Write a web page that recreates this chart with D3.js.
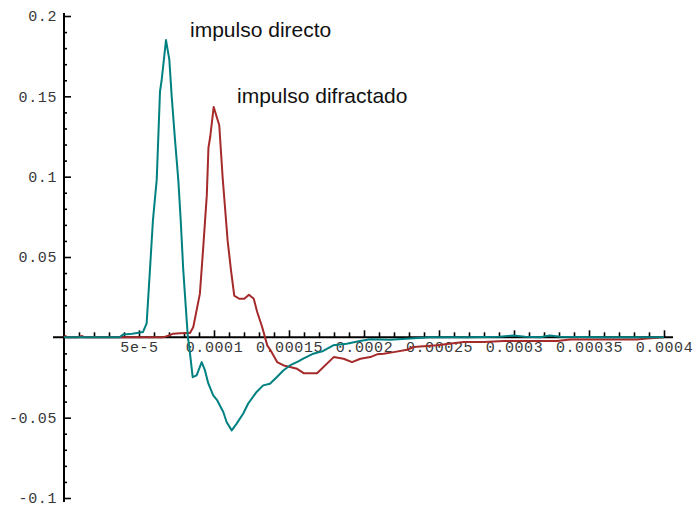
<!DOCTYPE html>
<html>
<head>
<meta charset="utf-8">
<script src="https://cdn.jsdelivr.net/npm/d3@7"></script>
<style>
  html, body { margin: 0; padding: 0; background: #fff; }
  svg { display: block; }
  .tick text { font-family: "Liberation Mono", "DejaVu Sans Mono", monospace; font-size: 15px; letter-spacing: 0.6px; fill: #383838; }
  .note { font-family: "Liberation Sans", Arial, sans-serif; font-size: 21px; fill: #111; }
</style>
</head>
<body>
<svg id="chart" width="694" height="507"></svg>
<script>
// Sample times (microseconds) and amplitudes of the direct pulse
const directTime = [0, 20, 37, 39.3, 44, 48.6, 52.6, 55.1, 57.3, 59.3, 61.8, 62.8, 64, 65.1, 68, 70.2, 71.8, 74, 76.2, 77.8, 79.5, 81.8, 82.6, 83.5, 85.8, 88.4, 91.8, 94, 96.2, 99.5, 102.2, 106.2, 108.4, 111.8, 115.1, 119.5, 122.8, 128.4, 132.8, 137.3, 141.8, 146.2, 150.6, 156.2, 159.5, 166.2, 172.8, 179.5, 188.4, 197.3, 204, 217.3, 230.6, 244, 270.6, 290.6, 299.3, 307.3, 317.3, 324, 330.6, 357.3, 400];
const directValue = [0, 0, 0, 0.0017, 0.002, 0.0027, 0.0033, 0.0087, 0.042, 0.073, 0.098, 0.123, 0.153, 0.160, 0.185, 0.173, 0.150, 0.123, 0.098, 0.073, 0.042, 0.0106, 0, -0.006, -0.0248, -0.0237, -0.0154, -0.0206, -0.0287, -0.0361, -0.0393, -0.0465, -0.0527, -0.0579, -0.0537, -0.0474, -0.0412, -0.034, -0.0299, -0.0289, -0.0248, -0.0206, -0.0175, -0.015, -0.0133, -0.0102, -0.0085, -0.005, -0.004, -0.0023, -0.0012, -0.0015, -0.0008, 0, 0, 0.0003, 0.0012, 0.0003, 0, 0.0012, 0.0003, 0, 0];

// Sample times (microseconds) and amplitudes of the diffracted pulse
const diffractedTime = [0, 1, 2.6, 9.3, 11.8, 14, 66, 69.5, 72.8, 77.3, 81.8, 84, 86.2, 90.6, 93, 95.2, 96.3, 97.5, 99.8, 103.5, 105.8, 109.1, 111.3, 113.5, 116.8, 120.2, 123.3, 126.5, 128.8, 132.1, 135.5, 137.7, 142.1, 146.5, 155.4, 159.8, 168.7, 179.8, 186.4, 192, 197.6, 204.2, 208.7, 213.1, 219.8, 228.7, 233.1, 248.7, 266.4, 279.8, 293.1, 328.7, 337.6, 382, 388.7, 400];
const diffractedValue = [0, 0.0008, 0, 0, 0.0008, 0, 0, 0.001, 0.0023, 0.0025, 0.0027, 0.0027, 0.0064, 0.0272, 0.0583, 0.0885, 0.118, 0.125, 0.1434, 0.132, 0.099, 0.060, 0.042, 0.026, 0.024, 0.024, 0.0265, 0.024, 0.0158, 0.0064, -0.005, -0.0081, -0.0154, -0.0175, -0.0196, -0.0223, -0.0223, -0.0123, -0.0133, -0.0154, -0.0133, -0.0123, -0.0106, -0.0102, -0.0092, -0.0077, -0.006, -0.005, -0.0029, -0.0029, -0.0023, -0.0023, -0.0014, -0.0014, -0.0008, 0];

// Axis ticks and their labels
const xMajorTicks = [5e-5, 1e-4, 1.5e-4, 2e-4, 2.5e-4, 3e-4, 3.5e-4, 4e-4];
const xTickLabels = ["5e-5", "0.0001", "0.00015", "0.0002", "0.00025", "0.0003", "0.00035", "0.0004"];
const yMajorTicks = [-0.1, -0.05, 0.05, 0.1, 0.15, 0.2];
const yTickLabels = ["-0.1", "-0.05", "0.05", "0.1", "0.15", "0.2"];

const labelDirect = "impulso directo";
const labelDiffracted = "impulso difractado";

const svg = d3.select("#chart");

const x = d3.scaleLinear().domain([0, 4e-4]).range([64, 664]);
const y = d3.scaleLinear().domain([-0.1, 0.2]).range([498, 16]);

const x0 = x(0), y0 = y(0);

// minor tick positions
const xMinor = d3.range(1, 41).map(i => i * 1e-5).filter(v => !xMajorTicks.some(m => Math.abs(m - v) < 1e-9));
const yMinor = d3.range(-10, 21).map(i => i * 0.01).filter(v => Math.abs(v) > 1e-9 && !yMajorTicks.some(m => Math.abs(m - v) < 1e-9));

const styleTicks = g => {
  g.select(".domain").remove();
  g.selectAll("line").attr("stroke", "#000").attr("stroke-width", 1.6);
};

// x axis ticks (upward from the axis)
svg.append("g").attr("transform", `translate(0,${y0})`)
  .call(d3.axisTop(x).tickValues(xMinor).tickSize(5).tickFormat(""))
  .call(styleTicks);
svg.append("g").attr("transform", `translate(0,${y0})`)
  .call(d3.axisTop(x).tickValues(xMajorTicks).tickSize(7).tickFormat(""))
  .call(styleTicks);
// x labels below the axis
svg.append("g").attr("transform", `translate(0,${y0})`)
  .call(d3.axisBottom(x).tickValues(xMajorTicks).tickSize(0).tickPadding(4)
    .tickFormat((d, i) => xTickLabels[i]))
  .call(g => g.select(".domain").remove());

// y axis ticks (to the right of the axis)
svg.append("g").attr("transform", `translate(${x0},0)`)
  .call(d3.axisRight(y).tickValues(yMinor).tickSize(3).tickFormat(""))
  .call(styleTicks);
svg.append("g").attr("transform", `translate(${x0},0)`)
  .call(d3.axisRight(y).tickValues(yMajorTicks).tickSize(7).tickFormat(""))
  .call(styleTicks);
svg.append("g").attr("transform", `translate(${x0},0)`)
  .call(d3.axisLeft(y).tickValues(yMajorTicks).tickSize(0).tickPadding(7)
    .tickFormat((d, i) => yTickLabels[i]))
  .call(g => g.select(".domain").remove());

// axis lines crossing at the origin
svg.append("line").attr("x1", x0 - 11).attr("x2", x(4e-4) + 9)
  .attr("y1", y0).attr("y2", y0).attr("stroke", "#000").attr("stroke-width", 2);
svg.append("line").attr("x1", x0).attr("x2", x0)
  .attr("y1", y(0.2) - 3).attr("y2", y(-0.1) + 4).attr("stroke", "#000").attr("stroke-width", 2);

// the two pulses
const line = d3.line().x(d => x(d[0] * 1e-6)).y(d => y(d[1]));
const diffracted = diffractedTime.map((t, i) => [t, diffractedValue[i]]);
const direct = directTime.map((t, i) => [t, directValue[i]]);

svg.append("path").datum(diffracted).attr("d", line)
  .attr("fill", "none").attr("stroke", "#a52a2a").attr("stroke-width", 2).attr("stroke-linejoin", "round");
svg.append("path").datum(direct).attr("d", line)
  .attr("fill", "none").attr("stroke", "#008080").attr("stroke-width", 2).attr("stroke-linejoin", "round");

// annotations
svg.append("text").attr("class", "note").attr("x", 190).attr("y", 37).text(labelDirect);
svg.append("text").attr("class", "note").attr("x", 237).attr("y", 103).text(labelDiffracted);
</script>
</body>
</html>
